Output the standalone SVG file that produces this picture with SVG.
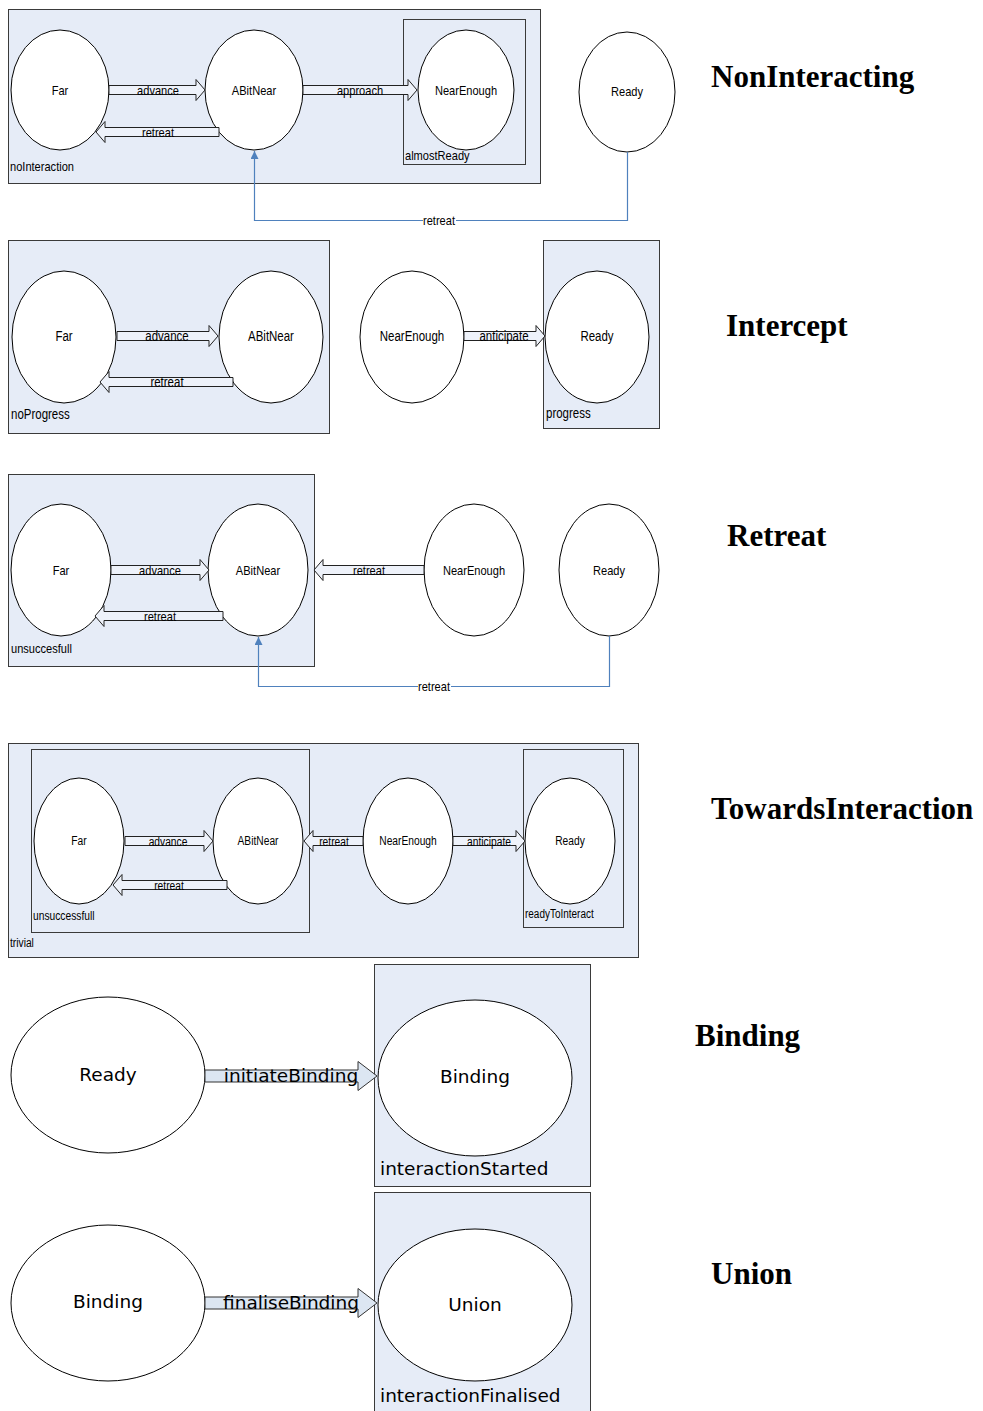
<svg xmlns="http://www.w3.org/2000/svg" width="983" height="1411" viewBox="0 0 983 1411">
  <style>
    .bg { fill: #ffffff; }
    .box { fill: #E6ECF7; stroke: #3a3a3a; stroke-width: 1; }
    .inner { fill: none; stroke: #3a3a3a; stroke-width: 1; }
    .state { fill: #ffffff; stroke: #000000; stroke-width: 1; }
    .blk { fill: #EEF2FA; stroke: #222222; stroke-width: 1; stroke-linejoin: miter; }
    .blk2 { fill: #DCE6F2; stroke: #333333; stroke-width: 1; }
    .wire { fill: none; stroke: #4F81BD; stroke-width: 1.2; }
    .n { font-family: "Liberation Sans", Arial, sans-serif; fill: #000; }
    .c { text-anchor: middle; }
    .big { font-family: "DejaVu Sans", "Liberation Sans", sans-serif; font-size: 18.5px; fill: #000; }
    .title { font-family: "Liberation Serif", "Times New Roman", serif; font-weight: bold; font-size: 31px; fill: #000; }
    .s1 { font-size: 13.5px; }
    .s2 { font-size: 14px; }
    .s3 { font-size: 13.5px; }
    .s4 { font-size: 12.5px; }
  </style>
  <defs>
    <marker id="tri" viewBox="0 0 10 10" refX="10" refY="5" markerWidth="8" markerHeight="8" markerUnits="userSpaceOnUse" orient="auto">
      <path d="M0,0 L10,5 L0,10 z" fill="#4F81BD"/>
    </marker>
  </defs>
  <rect class="bg" x="0" y="0" width="983" height="1411"/>

  <!-- ===== NonInteracting ===== -->
  <g id="noInteraction">
    <rect class="box" x="8.5" y="9.5" width="532" height="174"/>
    <text class="n s1" x="10" y="171" textLength="64" lengthAdjust="spacingAndGlyphs">noInteraction</text>
  </g>
  <g id="almostReady">
    <rect class="inner" x="403.5" y="19.5" width="122" height="145"/>
    <text class="n s1" x="405" y="160" textLength="64.6" lengthAdjust="spacingAndGlyphs">almostReady</text>
  </g>
  <g id="ni-far"><ellipse class="state" cx="60" cy="90" rx="49" ry="60"/><text class="n s1 c" x="60" y="95" textLength="16.6" lengthAdjust="spacingAndGlyphs">Far</text></g>
  <g id="ni-abitnear"><ellipse class="state" cx="254" cy="90" rx="49" ry="60"/><text class="n s1 c" x="254" y="95" textLength="44.3" lengthAdjust="spacingAndGlyphs">ABitNear</text></g>
  <g id="ni-nearenough"><ellipse class="state" cx="466" cy="90" rx="48" ry="60"/><text class="n s1 c" x="466" y="95" textLength="62.1" lengthAdjust="spacingAndGlyphs">NearEnough</text></g>
  <g id="ni-ready"><ellipse class="state" cx="627" cy="92" rx="48" ry="60"/><text class="n s1 c" x="627" y="96" textLength="32" lengthAdjust="spacingAndGlyphs">Ready</text></g>
  <text class="title" x="711" y="87">NonInteracting</text>

  <!-- ===== Intercept ===== -->
  <g id="noProgress">
    <rect class="box" x="8.5" y="240.5" width="321" height="193"/>
    <text class="n s2" x="11" y="419" textLength="58.7" lengthAdjust="spacingAndGlyphs">noProgress</text>
  </g>
  <g id="progress">
    <rect class="box" x="543.5" y="240.5" width="116" height="188"/>
    <text class="n s2" x="546" y="418" textLength="44.7" lengthAdjust="spacingAndGlyphs">progress</text>
  </g>
  <g id="ic-far"><ellipse class="state" cx="64" cy="337" rx="52" ry="66"/><text class="n s2 c" x="64" y="341" textLength="17.2" lengthAdjust="spacingAndGlyphs">Far</text></g>
  <g id="ic-abitnear"><ellipse class="state" cx="271" cy="337" rx="52" ry="66"/><text class="n s2 c" x="271" y="341" textLength="45.9" lengthAdjust="spacingAndGlyphs">ABitNear</text></g>
  <g id="ic-nearenough"><ellipse class="state" cx="412" cy="337" rx="52" ry="66"/><text class="n s2 c" x="412" y="341" textLength="64.4" lengthAdjust="spacingAndGlyphs">NearEnough</text></g>
  <g id="ic-ready"><ellipse class="state" cx="597" cy="337" rx="52" ry="66"/><text class="n s2 c" x="597" y="341" textLength="33.2" lengthAdjust="spacingAndGlyphs">Ready</text></g>
  <text class="title" x="726" y="336">Intercept</text>

  <!-- ===== Retreat ===== -->
  <g id="unsuccesfull">
    <rect class="box" x="8.5" y="474.5" width="306" height="192"/>
    <text class="n s3" x="11" y="653" textLength="60.9" lengthAdjust="spacingAndGlyphs">unsuccesfull</text>
  </g>
  <g id="rt-far"><ellipse class="state" cx="61" cy="570" rx="50" ry="66"/><text class="n s3 c" x="61" y="575" textLength="16.6" lengthAdjust="spacingAndGlyphs">Far</text></g>
  <g id="rt-abitnear"><ellipse class="state" cx="258" cy="570" rx="50" ry="66"/><text class="n s3 c" x="258" y="575" textLength="44.3" lengthAdjust="spacingAndGlyphs">ABitNear</text></g>
  <g id="rt-nearenough"><ellipse class="state" cx="474" cy="570" rx="50" ry="66"/><text class="n s3 c" x="474" y="575" textLength="62.1" lengthAdjust="spacingAndGlyphs">NearEnough</text></g>
  <g id="rt-ready"><ellipse class="state" cx="609" cy="570" rx="50" ry="66"/><text class="n s3 c" x="609" y="575" textLength="32" lengthAdjust="spacingAndGlyphs">Ready</text></g>
  <text class="title" x="727" y="546">Retreat</text>

  <!-- ===== TowardsInteraction ===== -->
  <g id="trivial">
    <rect class="box" x="8.5" y="743.5" width="630" height="214"/>
    <text class="n s4" x="10" y="947" textLength="23.9" lengthAdjust="spacingAndGlyphs">trivial</text>
  </g>
  <g id="unsuccessfull">
    <rect class="inner" x="31.5" y="749.5" width="278" height="183"/>
    <text class="n s4" x="33" y="920" textLength="61.5" lengthAdjust="spacingAndGlyphs">unsuccessfull</text>
  </g>
  <g id="readyToInteract">
    <rect class="inner" x="523.5" y="749.5" width="100" height="178"/>
    <text class="n s4" x="525" y="918" textLength="68.7" lengthAdjust="spacingAndGlyphs">readyToInteract</text>
  </g>
  <g id="ti-far"><ellipse class="state" cx="79" cy="841" rx="45" ry="63"/><text class="n s4 c" x="79" y="845" textLength="15.4" lengthAdjust="spacingAndGlyphs">Far</text></g>
  <g id="ti-abitnear"><ellipse class="state" cx="258" cy="841" rx="45" ry="63"/><text class="n s4 c" x="258" y="845" textLength="41" lengthAdjust="spacingAndGlyphs">ABitNear</text></g>
  <g id="ti-nearenough"><ellipse class="state" cx="408" cy="841" rx="45" ry="63"/><text class="n s4 c" x="408" y="845" textLength="57.5" lengthAdjust="spacingAndGlyphs">NearEnough</text></g>
  <g id="ti-ready"><ellipse class="state" cx="570" cy="841" rx="45" ry="63"/><text class="n s4 c" x="570" y="845" textLength="29.6" lengthAdjust="spacingAndGlyphs">Ready</text></g>
  <text class="title" x="711" y="819">TowardsInteraction</text>

  <!-- ===== Binding ===== -->
  <g id="interactionStarted">
    <rect class="box" x="374.5" y="964.5" width="216" height="222"/>
    <text class="big" x="380" y="1175">interactionStarted</text>
  </g>
  <g id="bd-ready"><ellipse class="state" cx="108" cy="1075" rx="97" ry="78"/><text class="big c" x="108" y="1081">Ready</text></g>
  <g id="bd-binding"><ellipse class="state" cx="475" cy="1078" rx="97" ry="78"/><text class="big c" x="475" y="1083">Binding</text></g>
  <text class="title" x="695" y="1046">Binding</text>

  <!-- ===== Union ===== -->
  <g id="interactionFinalised">
    <rect class="box" x="374.5" y="1192.5" width="216" height="225"/>
    <text class="big" x="380" y="1402">interactionFinalised</text>
  </g>
  <g id="un-binding"><ellipse class="state" cx="108" cy="1303" rx="97" ry="78"/><text class="big c" x="108" y="1308">Binding</text></g>
  <g id="un-union"><ellipse class="state" cx="475" cy="1305" rx="97" ry="76"/><text class="big c" x="475" y="1311">Union</text></g>
  <text class="title" x="711" y="1284">Union</text>

  <!-- ===== transitions ===== -->
  <g id="connectors">
    <!-- NonInteracting -->
    <polygon class="blk" points="109,85.5 196,85.5 196,79.5 205,90 196,100.5 196,94.5 109,94.5"/>
    <text class="n s1 c" x="158" y="94.5" textLength="41.8" lengthAdjust="spacingAndGlyphs">advance</text>
    <polygon class="blk" points="219,127.5 105,127.5 105,121.5 96,132 105,142.5 105,136.5 219,136.5"/>
    <text class="n s1 c" x="158" y="137" textLength="32" lengthAdjust="spacingAndGlyphs">retreat</text>
    <polygon class="blk" points="303,85.5 408,85.5 408,79.5 417,90 408,100.5 408,94.5 303,94.5"/>
    <text class="n s1 c" x="360" y="94.5" textLength="46.2" lengthAdjust="spacingAndGlyphs">approach</text>
    <path class="wire" d="M627.5,152 V220.5 H254.5 V151" marker-end="url(#tri)"/>
    <rect x="423" y="213" width="33" height="14" fill="#ffffff"/>
    <text class="n s1 c" x="439" y="225" textLength="32" lengthAdjust="spacingAndGlyphs">retreat</text>

    <!-- Intercept -->
    <polygon class="blk" points="117,331.5 209,331.5 209,325.5 218,336 209,346.5 209,340.5 117,340.5"/>
    <text class="n s2 c" x="167" y="341" textLength="43.4" lengthAdjust="spacingAndGlyphs">advance</text>
    <polygon class="blk" points="233,377.5 109,377.5 109,371.5 100,382 109,392.5 109,386.5 233,386.5"/>
    <text class="n s2 c" x="167" y="387" textLength="33.2" lengthAdjust="spacingAndGlyphs">retreat</text>
    <polygon class="blk" points="464,331.5 536,331.5 536,325.5 545,336 536,346.5 536,340.5 464,340.5"/>
    <text class="n s2 c" x="504" y="341" textLength="49.1" lengthAdjust="spacingAndGlyphs">anticipate</text>

    <!-- Retreat -->
    <polygon class="blk" points="111,565.5 200,565.5 200,559.5 209,570 200,580.5 200,574.5 111,574.5"/>
    <text class="n s3 c" x="160" y="575" textLength="41.8" lengthAdjust="spacingAndGlyphs">advance</text>
    <polygon class="blk" points="223,611.5 104,611.5 104,605.5 95,616 104,626.5 104,620.5 223,620.5"/>
    <text class="n s3 c" x="160" y="621" textLength="32" lengthAdjust="spacingAndGlyphs">retreat</text>
    <polygon class="blk" points="424,565.5 323,565.5 323,559.5 314,570 323,580.5 323,574.5 424,574.5"/>
    <text class="n s3 c" x="369" y="575" textLength="32" lengthAdjust="spacingAndGlyphs">retreat</text>
    <path class="wire" d="M609.5,636 V686.5 H258.5 V637" marker-end="url(#tri)"/>
    <rect x="418" y="679" width="33" height="14" fill="#ffffff"/>
    <text class="n s3 c" x="434" y="691" textLength="32" lengthAdjust="spacingAndGlyphs">retreat</text>

    <!-- TowardsInteraction -->
    <polygon class="blk" points="125,836.5 204,836.5 204,830.5 213,841 204,851.5 204,845.5 125,845.5"/>
    <text class="n s4 c" x="168" y="845.5" textLength="38.7" lengthAdjust="spacingAndGlyphs">advance</text>
    <polygon class="blk" points="227,880.5 122,880.5 122,874.5 113,885 122,895.5 122,889.5 227,889.5"/>
    <text class="n s4 c" x="169" y="889.5" textLength="29.6" lengthAdjust="spacingAndGlyphs">retreat</text>
    <polygon class="blk" points="363,836.5 313,836.5 313,830.5 304,841 313,851.5 313,845.5 363,845.5"/>
    <text class="n s4 c" x="334" y="845.5" textLength="29.6" lengthAdjust="spacingAndGlyphs">retreat</text>
    <polygon class="blk" points="453,836.5 516,836.5 516,830.5 525,841 516,851.5 516,845.5 453,845.5"/>
    <text class="n s4 c" x="489" y="845.5" textLength="43.9" lengthAdjust="spacingAndGlyphs">anticipate</text>

    <!-- Binding / Union -->
    <polygon class="blk2" points="205,1070 358,1070 358,1061.5 377,1076 358,1090.5 358,1082 205,1082"/>
    <text class="big c" x="291" y="1082">initiateBinding</text>
    <polygon class="blk2" points="205,1297 358,1297 358,1288.5 377,1303 358,1317.5 358,1309 205,1309"/>
    <text class="big c" x="291" y="1309">finaliseBinding</text>
  </g>
</svg>
